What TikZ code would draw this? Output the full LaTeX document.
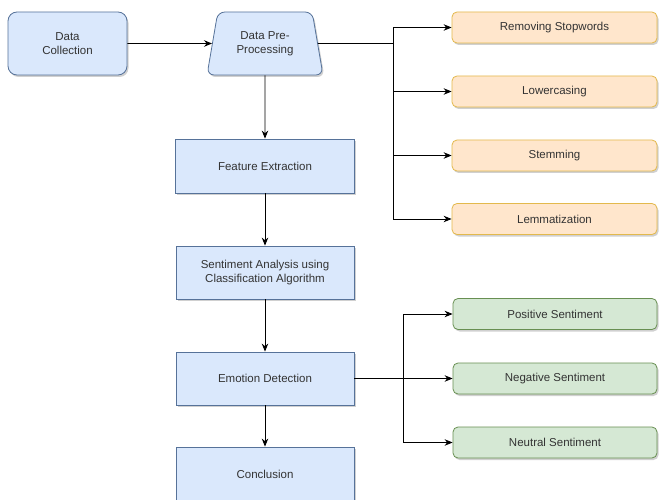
\documentclass[tikz,border=0pt]{standalone}
\usepackage{fontspec}
\setmainfont{Liberation Sans}
\usetikzlibrary{shapes.geometric,arrows.meta,shadows}
\definecolor{bfill}{HTML}{DAE8FC}
\definecolor{bdraw}{HTML}{6C8EBF}
\definecolor{ofill}{HTML}{FFE6CC}
\definecolor{odraw}{HTML}{D79B00}
\definecolor{gfill}{HTML}{D5E8D4}
\definecolor{gdraw}{HTML}{82B366}
\definecolor{txt}{HTML}{333333}
\tikzset{
  shd/.style={drop shadow={shadow xshift=1.5pt,shadow yshift=-2pt,opacity=0.3,fill=black!60}},
  base/.style={draw, line width=0.8pt, text=txt, align=center, inner sep=0pt, font=\fontsize{11.5}{14}\selectfont, shd},
  bluebox/.style={base, fill=bfill, draw=bdraw!80!black},
  orangebox/.style={base, fill=ofill, draw=odraw!70!white, rounded corners=5pt, minimum width=205pt, minimum height=31pt},
  greenbox/.style={base, fill=gfill, draw=gdraw!80!black, rounded corners=5pt, minimum width=204pt, minimum height=31pt},
  arr/.style={-{Stealth[length=8pt,width=6.5pt]}, line width=0.9pt},
  ln/.style={line width=0.9pt}
}
\begin{document}
\begin{tikzpicture}[x=1pt,y=-1pt]
\useasboundingbox (0,0) rectangle (659,500);
\fill[white] (0,0) rectangle (659,500);
% main column
\node[bluebox, rounded corners=9pt, minimum width=119pt, minimum height=63pt] (dc) at (67.5,43.5) {Data\\Collection};
\node[bluebox, trapezium, trapezium stretches=true, trapezium angle=75, rounded corners=7pt, minimum width=116pt, minimum height=63pt] (pre) at (265,43.5) {Data Pre-\\Processing};
\node[bluebox, minimum width=179pt, minimum height=54pt] (fe) at (265,166) {Feature Extraction};
\node[bluebox, minimum width=178pt, minimum height=53pt] (sa) at (265,272.5) {Sentiment Analysis using\\Classification Algorithm};
\node[bluebox, minimum width=178pt, minimum height=53pt] (ed) at (265,378.5) {Emotion Detection};
\node[bluebox, minimum width=178pt, minimum height=54pt] (co) at (265,474) {Conclusion};
% preprocessing steps
\node[orangebox] (rs) at (554.5,27.5) {Removing Stopwords};
\node[orangebox] (lc) at (554.5,91.5) {Lowercasing};
\node[orangebox] (st) at (554.5,155.5) {Stemming};
\node[orangebox] (lm) at (554.5,219) {Lemmatization};
% sentiments
\node[greenbox] (ps) at (555,314) {Positive Sentiment};
\node[greenbox] (ng) at (555,378.5) {Negative Sentiment};
\node[greenbox] (nt) at (555,442.5) {Neutral Sentiment};
% connectors
\draw[arr] (dc) -- (pre);
\draw[arr] (pre) -- (fe);
\draw[arr] (fe) -- (sa);
\draw[arr] (sa) -- (ed);
\draw[arr] (ed) -- (co);
\coordinate (j1) at (393,43.5);
\draw[ln] (pre.east) -- (j1);
\draw[arr] (j1) |- (rs.west);
\draw[arr] (j1) |- (lc.west);
\draw[arr] (j1) |- (st.west);
\draw[arr] (j1) |- (lm.west);
\coordinate (j2) at (403,378.5);
\draw[ln] (ed.east) -- (j2);
\draw[arr] (j2) |- (ps.west);
\draw[arr] (j2) -- (ng.west);
\draw[arr] (j2) |- (nt.west);
\end{tikzpicture}
\end{document}
